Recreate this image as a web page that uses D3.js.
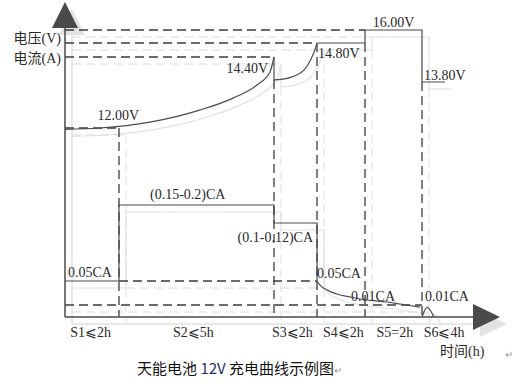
<!DOCTYPE html>
<html>
<head>
<meta charset="utf-8">
<script src="https://cdn.jsdelivr.net/npm/d3@7"></script>
<style>
  body { margin: 0; background: #fff; }
  svg { display: block; }
</style>
</head>
<body>
<div id="diagram"></div>
<script>
!(function () {
  // - - - - - - - - - -

  // stage boundaries (hours, cumulative) and labels
  let phaseBounds = [0, 2, 7, 9, 11, 13, 17];
  let phaseLabels = ['S1⩽2h', 'S2⩽5h', 'S3⩽2h', 'S4⩽2h', 'S5=2h', 'S6⩽4h'];
  let phaseLabelAt = [0.95, 4.4, 7.85, 10.1, 12.05, 14.3];

  // voltage levels used by the schematic
  let voltLevels = [12.0, 13.8, 14.4, 14.8, 16.0];
  let currLevels = [0, 0.01, 0.05, 0.11, 0.175];

  // voltage: S1+S2 rise, S3 rise, S4..S6 steps
  let vRiseT = [0, 1.3, 3.0, 4.6, 5.68, 6.45, 6.87, 7];
  let vRiseV = [11.95, 12.0, 12.23, 12.70, 13.17, 13.68, 14.04, 14.4];
  let vS3T = [7, 7.7, 8.4, 8.7, 8.95, 9];
  let vS3V = [13.85, 13.9, 14.09, 14.33, 14.69, 14.8];
  let vStepT = [9, 11, 11, 13, 13, 14.35];
  let vStepV = [14.8, 14.8, 16.0, 16.0, 13.8, 13.8];

  // current: steps S1..S3, decay S4..S5, bump S6
  let iStepT = [0, 2, 2, 7, 7, 9, 9];
  let iStepI = [0.05, 0.05, 0.175, 0.175, 0.11, 0.11, 0.05];
  let iDecayT = [9, 9.125, 9.42, 9.83, 10.375, 11.07, 11.77, 12.23, 12.93];
  let iDecayI = [0.05, 0.0433, 0.035, 0.0283, 0.0233, 0.0183, 0.015, 0.0117, 0.0083];
  let iBumpT = [13, 13.3, 13.7];
  let iBumpI = [0, 0.008, 0];

  let
    svg,
    width = 528,
    height = 385,
    x = d3.scaleLinear().domain(phaseBounds).range([65, 119, 274, 317, 365, 422, 490]),
    yV = d3.scaleLinear().domain(voltLevels).range([128, 82, 57, 43, 30]),
    yI = d3.scaleLinear().domain(currLevels).range([317, 305, 281, 223, 205]),
    serif = '"Liberation Serif", "Times New Roman", "DejaVu Serif", "Noto Sans CJK SC", serif';

  svg = d3.select('#diagram')
    .append('svg')
    .attr('width', width)
    .attr('height', height)
    .attr('viewBox', '0 0 ' + width + ' ' + height);

  function zip(a, b) { return a.map(function (d, i) { return [d, b[i]]; }); }

  let lineV = d3.line().x(d => x(d[0])).y(d => yV(d[1]));
  let lineI = d3.line().x(d => x(d[0])).y(d => yI(d[1]));
  let curveV = d3.line().curve(d3.curveMonotoneX).x(d => x(d[0])).y(d => yV(d[1]));
  let curveI = d3.line().curve(d3.curveMonotoneX).x(d => x(d[0])).y(d => yI(d[1]));

  function drawLines(g, col, dashCol) {
    let dash = '9,5';
    let dashed = [
      lineV([[0, 16], [11, 16]]),
      lineV([[0, 14.8], [9, 14.8]]),
      lineV([[0, 14.4], [7, 14.4]]),
      lineV([[0, 12], [2, 12]]),
      lineI([[2, 0.05], [9, 0.05]]),
      lineI([[0, 0.01], [13, 0.01]]),
      'M' + x(2) + ',' + yV(12) + 'V' + yI(0),
      'M' + x(7) + ',' + yV(13.85) + 'V' + yI(0),
      'M' + x(9) + ',' + yV(14.8) + 'V' + yI(0),
      'M' + x(11) + ',' + yV(14.8) + 'V' + yI(0),
      'M' + x(13) + ',' + yV(13.8) + 'V' + yI(0)
    ];
    g.selectAll('path.dash')
      .data(dashed)
      .enter()
      .append('path')
      .attr('class', 'dash')
      .attr('d', d => d)
      .style('fill', 'none')
      .style('stroke', dashCol)
      .style('stroke-width', 1.3)
      .style('stroke-dasharray', dash);

    let solid = [
      curveV(zip(vRiseT, vRiseV)),
      lineV([[7, 14.4], [7, 13.85]]),
      curveV(zip(vS3T, vS3V)),
      lineV(zip(vStepT, vStepV)),
      lineI(zip(iStepT, iStepI)),
      curveI(zip(iDecayT, iDecayI)),
      curveI(zip(iBumpT, iBumpI))
    ];
    g.selectAll('path.solid')
      .data(solid)
      .enter()
      .append('path')
      .attr('class', 'solid')
      .attr('d', d => d)
      .style('fill', 'none')
      .style('stroke', col)
      .style('stroke-width', 1.2);

    // axes
    g.append('path')
      .attr('d', 'M' + x(0) + ',' + yI(0) + 'V27')
      .style('stroke', col).style('stroke-width', 1.5);
    g.append('path')
      .attr('d', 'M' + x(0) + ',' + yI(0) + 'H474')
      .style('stroke', col).style('stroke-width', 1.5);
    g.append('path')
      .attr('d', 'M65,2L52,28L78,28Z')
      .style('fill', col);
    g.append('path')
      .attr('d', 'M500,317L473,304L473,330Z')
      .style('fill', col);
  }

  // shadow copy
  drawLines(svg.append('g').attr('transform', 'translate(7,7)'), '#e2e2e2', '#e6e6e6');
  drawLines(svg.append('g'), '#4a4a4a', '#3c3c3c');

  // text labels
  let labels = [
    { t: '12.00V', x: x(1.2), y: yV(12) - 8, a: 'start' },
    { t: '14.40V', x: x(7) - 6, y: yV(14.4) + 16, a: 'end' },
    { t: '14.80V', x: x(9) + 1, y: yV(14.8) + 15, a: 'start' },
    { t: '16.00V', x: x(12), y: yV(16) - 3, a: 'middle' },
    { t: '13.80V', x: x(13) + 2, y: yV(13.8) - 2, a: 'start' },
    { t: '(0.15-0.2)CA', x: x(2) + 31, y: yI(0.175) - 6, a: 'start' },
    { t: '(0.1-0.12)CA', x: x(9) - 4, y: yI(0.11) + 19, a: 'end' },
    { t: '0.05CA', x: x(0) + 3, y: yI(0.05) - 4, a: 'start' },
    { t: '0.05CA', x: x(9), y: yI(0.05) - 3, a: 'start' },
    { t: '0.01CA', x: x(10.42), y: yI(0.01) - 4, a: 'start' },
    { t: '0.01CA', x: x(13) + 3, y: yI(0.01) - 4, a: 'start' },
    { t: '电压(V)', x: 61, y: 43, a: 'end' },
    { t: '电流(A)', x: 61, y: 63, a: 'end' },
    { t: '时间(h)', x: 440, y: 356, a: 'start' }
  ];
  svg.selectAll('text.lbl')
    .data(labels)
    .enter()
    .append('text')
    .attr('class', 'lbl')
    .attr('x', d => d.x)
    .attr('y', d => d.y)
    .attr('text-anchor', d => d.a)
    .style('font-family', serif)
    .style('font-size', '14px')
    .style('fill', '#2a2a2a')
    .text(d => d.t);

  svg.selectAll('text.phase')
    .data(phaseLabels)
    .enter()
    .append('text')
    .attr('class', 'phase')
    .attr('x', (d, i) => x(phaseLabelAt[i]))
    .attr('y', 337)
    .attr('text-anchor', 'middle')
    .style('font-family', serif)
    .style('font-size', '14px')
    .style('fill', '#2a2a2a')
    .text(d => d);

  // caption
  let cap = svg.append('text')
    .attr('x', 137)
    .attr('y', 374)
    .style('font-family', '"Noto Sans CJK SC", sans-serif')
    .style('font-size', '15px')
    .style('fill', '#111');
  cap.append('tspan').text('天能电池 ');
  cap.append('tspan').style('fill', '#1d2f6e').text('12V');
  cap.append('tspan').text(' 充电曲线示例图');
  cap.append('tspan').style('fill', '#999').style('font-size', '10px').text('↵');

  svg.append('text')
    .attr('x', 505)
    .attr('y', 358)
    .style('font-size', '10px')
    .style('fill', '#999')
    .text('↵');

  // - - - - - - - - - -
}());
</script>
</body>
</html>
